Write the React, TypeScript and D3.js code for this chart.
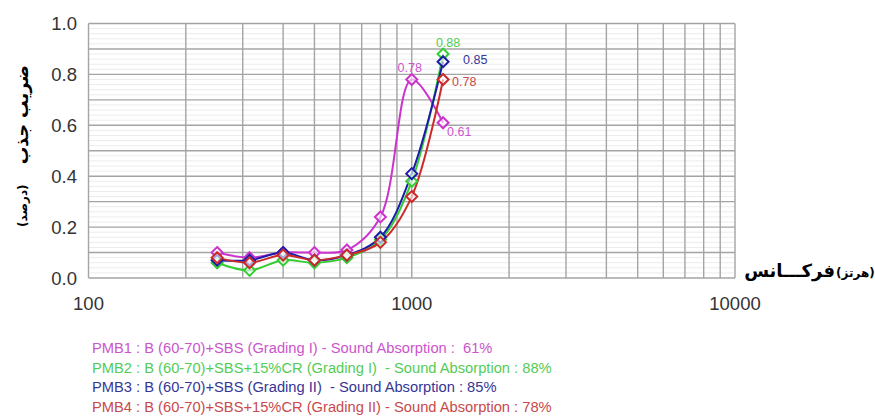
import React from "react";
import * as d3 from "d3";

// 1/3-octave band centre frequencies (Hz)
const frequencies = [250, 315, 400, 500, 630, 800, 1000, 1250];

// Sound absorption coefficient per mixture
const pmb1 = [0.10, 0.08, 0.10, 0.10, 0.11, 0.24, 0.78, 0.61];
const pmb2 = [0.06, 0.03, 0.07, 0.06, 0.08, 0.15, 0.38, 0.88];
const pmb3 = [0.07, 0.07, 0.10, 0.07, 0.09, 0.16, 0.41, 0.85];
const pmb4 = [0.08, 0.06, 0.09, 0.07, 0.09, 0.14, 0.32, 0.78];

const yTicks = [0, 0.2, 0.4, 0.6, 0.8, 1.0];
const xTickLabels = [100, 1000, 10000];

const legendLabels = [
  "PMB1 : B (60-70)+SBS (Grading I) - Sound Absorption :  61%",
  "PMB2 : B (60-70)+SBS+15%CR (Grading I)  - Sound Absorption : 88%",
  "PMB3 : B (60-70)+SBS (Grading II)  - Sound Absorption : 85%",
  "PMB4 : B (60-70)+SBS+15%CR (Grading II) - Sound Absorption : 78%",
];

const seriesValues = [pmb1, pmb2, pmb3, pmb4];
const lineColors = ["#cc33cc", "#33cc33", "#1c1ca8", "#cc2a2a"];
const textColors = ["#cc55cc", "#55cc55", "#363696", "#c84a4a"];

// Value callouts: series index, point index, and text placement around the marker
const callouts = [
  { s: 0, i: 6, dx: -2, dy: -12, anchor: "middle" },
  { s: 0, i: 7, dx: 4, dy: 9, anchor: "start" },
  { s: 1, i: 7, dx: 5, dy: -12, anchor: "middle" },
  { s: 2, i: 7, dx: 20, dy: -2, anchor: "start" },
  { s: 3, i: 7, dx: 9, dy: 2, anchor: "start" },
];

const W = 875;
const H = 420;
const left = 88.5;
const right = 735;
const top = 23.5;
const bottom = 278;

export default function App() {
  const x = d3.scaleLog().domain([100, 10000]).range([left, right]);
  const y = d3.scaleLinear().domain([0, 1]).range([bottom, top]);

  const vGrid: number[] = [];
  for (let d = 100; d < 10000; d *= 10) {
    for (let k = 1; k < 10; k++) vGrid.push(d * k);
  }
  vGrid.push(10000);

  const hMajor = d3.range(0, 11).map((k) => k / 10);
  const hMinor = d3.range(0, 51).map((k) => k / 50).filter((v) => Math.round(v * 50) % 5 !== 0);

  const line = d3
    .line<number>()
    .x((_, i) => x(frequencies[i]))
    .y((v) => y(v))
    .curve(d3.curveCatmullRom.alpha(0.5));

  const diamond = (cx: number, cy: number, r = 5.5) =>
    `M${cx},${cy - r}L${cx + r},${cy}L${cx},${cy + r}L${cx - r},${cy}Z`;

  const latin = "'Liberation Sans', Arial, sans-serif";
  const persian = "'DejaVu Sans', sans-serif";

  return (
    <svg width={W} height={H} style={{ display: "block", position: "absolute", left: 0, top: 0, background: "#fff" }}>
      {/* minor horizontal grid */}
      {hMinor.map((v) => (
        <line key={"mi" + v} x1={left} x2={right} y1={y(v)} y2={y(v)} stroke="#ececec" strokeWidth={1} />
      ))}
      {/* major horizontal grid */}
      {hMajor.map((v) => (
        <line key={"ma" + v} x1={left} x2={right} y1={y(v)} y2={y(v)} stroke="#a4a4a4" strokeWidth={1.4} />
      ))}
      {/* vertical log grid */}
      {vGrid.map((f) => (
        <line key={"v" + f} x1={x(f)} x2={x(f)} y1={top} y2={bottom} stroke="#a4a4a4" strokeWidth={1.4} />
      ))}

      {/* y tick labels */}
      {yTicks.map((t) => (
        <text key={"yt" + t} x={77} y={y(t) + 6.5} textAnchor="end" fontFamily={latin} fontSize={18.5} fill="#333">
          {t.toFixed(1)}
        </text>
      ))}
      {/* x tick labels */}
      {xTickLabels.map((t) => (
        <text key={"xt" + t} x={x(t)} y={310} textAnchor="middle" fontFamily={latin} fontSize={18.5} fill="#333">
          {t}
        </text>
      ))}

      {/* series curves */}
      {seriesValues.map((vals, s) => (
        <path key={"l" + s} d={line(vals) || ""} fill="none" stroke={lineColors[s]} strokeWidth={2} />
      ))}
      {/* markers */}
      {seriesValues.map((vals, s) => (
        <g key={"m" + s}>
          {vals.map((v, i) => (
            <path
              key={i}
              d={diamond(x(frequencies[i]), y(v))}
              fill="#fff"
              fillOpacity={0.6}
              stroke={lineColors[s]}
              strokeWidth={2}
            />
          ))}
        </g>
      ))}

      {/* value callouts */}
      {callouts.map((c, k) => {
        const v = seriesValues[c.s][c.i];
        return (
          <text
            key={"c" + k}
            x={x(frequencies[c.i]) + c.dx}
            y={y(v) + c.dy + 4.5}
            textAnchor={c.anchor as any}
            fontFamily={latin}
            fontSize={12.5}
            fill={textColors[c.s]}
          >
            {v.toFixed(2)}
          </text>
        );
      })}

      {/* y axis title */}
      <g transform="translate(22,146) rotate(-90)">
        <text x={81} y={0} textAnchor="end" dominantBaseline="central" fontFamily={persian} fontWeight="bold" fontSize={17.5} fill="#000">
          ضریب جذب
        </text>
        <text x={-81} y={1} textAnchor="start" dominantBaseline="central" fontFamily={persian} fontWeight="bold" fontSize={12} fill="#000">
          (درصد)
        </text>
      </g>

      {/* x axis title */}
      <text x={835} y={277} textAnchor="end" fontFamily={persian} fontWeight="bold" fontSize={18} fill="#000">
        فرکـــانس
      </text>
      <text x={836} y={277} textAnchor="start" fontFamily={persian} fontWeight="bold" fontSize={12} fill="#000">
        (هرتز)
      </text>

      {/* legend */}
      {legendLabels.map((t, k) => (
        <text
          key={"lg" + k}
          x={92}
          y={353 + k * 19.6}
          fontFamily={latin}
          fontSize={14.7}
          fill={textColors[k]}
          style={{ whiteSpace: "pre" }}
        >
          {t}
        </text>
      ))}
    </svg>
  );
}
